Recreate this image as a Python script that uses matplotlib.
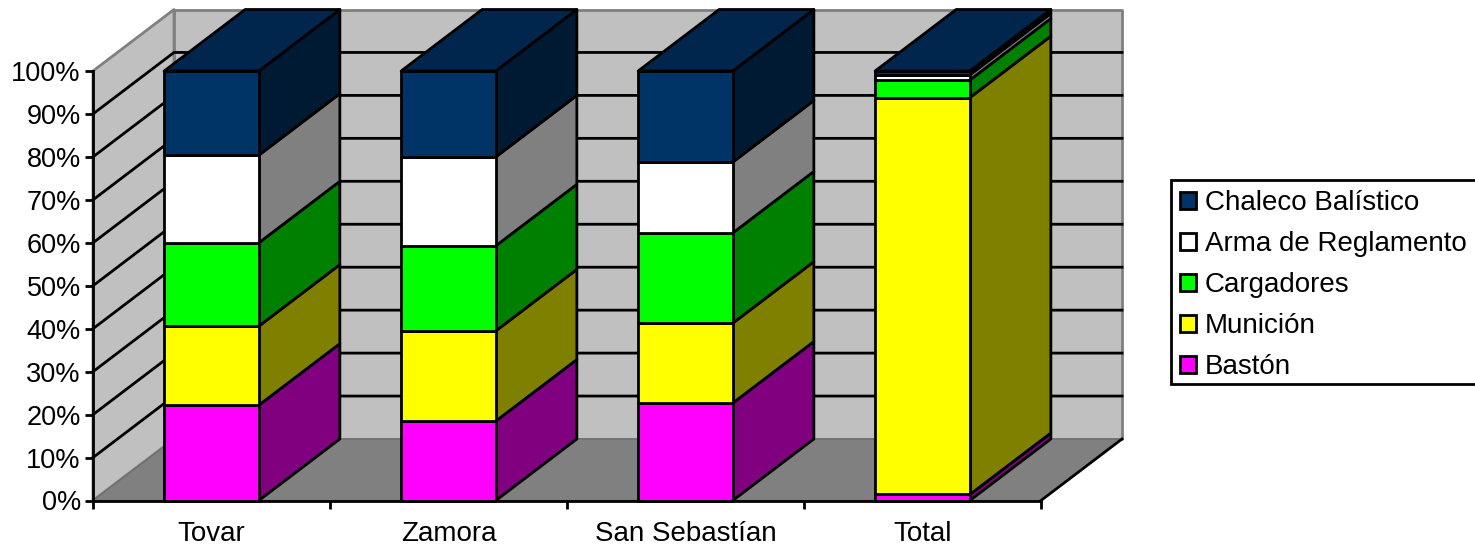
import matplotlib
matplotlib.use("Agg")
import matplotlib.pyplot as plt
import numpy as np
from matplotlib.patches import Polygon, Patch, Rectangle

plt.rcParams['font.family'] = ['Liberation Sans', 'DejaVu Sans']

categories = ['Tovar', 'Zamora', 'San Sebastían', 'Total']
baston = [22.2, 18.5, 22.7, 1.4]
municion = [18.4, 21.0, 18.6, 92.4]
cargadores = [19.4, 19.8, 21.0, 4.1]
arma = [20.4, 20.7, 16.5, 1.2]
chaleco = [19.6, 20.0, 21.2, 0.9]
y_ticks = [0, 10, 20, 30, 40, 50, 60, 70, 80, 90, 100]

series = [baston, municion, cargadores, arma, chaleco]
names = ['Bastón', 'Munición', 'Cargadores', 'Arma de Reglamento', 'Chaleco Balístico']
front = ['#FF00FF', '#FFFF00', '#00FF00', '#FFFFFF', '#003366']
side = ['#800080', '#808000', '#008000', '#808080', '#001A33']
top_col = '#00264D'

# pixel layout of the front plane
W, H = 1475, 545
x0, x1, y0, y1 = 93, 1041, 500.5, 71
dx = 81 / ((x1 - x0) / 4)     # depth, in category units
dy = 61.5 / ((y0 - y1) / 100)  # depth, in percent
bar_w = 94.7 / ((x1 - x0) / 4)
lw = 2.0
font_size = 20

fig = plt.figure(figsize=(W / 100, H / 100), dpi=100)
ax = fig.add_axes([x0 / W, 1 - y0 / H, (x1 - x0) / W, (y0 - y1) / H])
ax.set_xlim(0, 4)
ax.set_ylim(0, 100)
ax.patch.set_visible(False)


def poly(pts, fc, ec='black', z=1, width=lw):
    ax.add_patch(Polygon(pts, closed=True, facecolor=fc, edgecolor=ec, linewidth=width,
                         zorder=z, clip_on=False, joinstyle='round'))


# walls and floor
poly([(0, 0), (dx, dy), (dx, 100 + dy), (0, 100)], '#C0C0C0', '#808080', 1)
poly([(dx, dy), (4 + dx, dy), (4 + dx, 100 + dy), (dx, 100 + dy)], '#C0C0C0', '#808080', 1)
poly([(0, 0), (4, 0), (4 + dx, dy), (dx, dy)], '#808080', '#6E6E6E', 1.5, 1.0)

# gridlines on the walls
for t in y_ticks[1:-1]:
    ax.plot([0, dx, 4 + dx], [t, t + dy, t + dy], color='black', lw=lw, zorder=1.2,
            clip_on=False, solid_joinstyle='miter')
ax.plot([4, 4 + dx], [0, dy], color='black', lw=lw, zorder=1.6, clip_on=False)

# stacked 3d bars
for i in range(len(categories)):
    left = i + 0.5 - bar_w / 2
    right = left + bar_w
    bottom = 0
    z = 2 + i
    for j, s in enumerate(series):
        v = s[i]
        top = bottom + v
        poly([(right, bottom), (right + dx, bottom + dy), (right + dx, top + dy), (right, top)],
             side[j], z=z)
        poly([(left, bottom), (right, bottom), (right, top), (left, top)], front[j], z=z + 0.1)
        bottom = top
    poly([(left, bottom), (right, bottom), (right + dx, bottom + dy), (left + dx, bottom + dy)],
         top_col, z=z + 0.1)

# axes
for name in ['top', 'right']:
    ax.spines[name].set_visible(False)
for name in ['left', 'bottom']:
    ax.spines[name].set_linewidth(lw)
    ax.spines[name].set_zorder(10)
ax.set_yticks(y_ticks)
ax.set_yticklabels([f'{t}%' for t in y_ticks])
ax.set_xticks(np.arange(0, 5))
ax.set_xticklabels([])
ax.set_xticks(np.arange(len(categories)) + 0.5, minor=True)
ax.set_xticklabels(categories, minor=True)
ax.tick_params(axis='y', which='major', length=5.8, width=lw, labelsize=19.5, pad=3)
ax.tick_params(axis='x', which='major', length=5.8, width=lw)
ax.tick_params(axis='x', which='minor', length=0, labelsize=font_size, pad=14.5)

# legend: the box runs off the right edge of the picture, so it is drawn on its own
fig.add_artist(Rectangle((1171 / W, 1 - 384 / H), 320 / W, 204 / H, transform=fig.transFigure,
                         facecolor='white', edgecolor='black', linewidth=lw, zorder=5))
handles = [Patch(facecolor=front[j], edgecolor='black', linewidth=lw, label=names[j])
           for j in range(len(names) - 1, -1, -1)]
leg = fig.legend(handles=handles, loc='upper left',
                 bbox_to_anchor=(1180 / W, 1 - 190.5 / H), bbox_transform=fig.transFigure,
                 fontsize=font_size, frameon=False,
                 borderaxespad=0, borderpad=0, labelspacing=0.535,
                 handlelength=0.575, handleheight=0.575, handletextpad=0.31)
leg.set_zorder(6)

fig.savefig('out.png', dpi=100, facecolor='white')
